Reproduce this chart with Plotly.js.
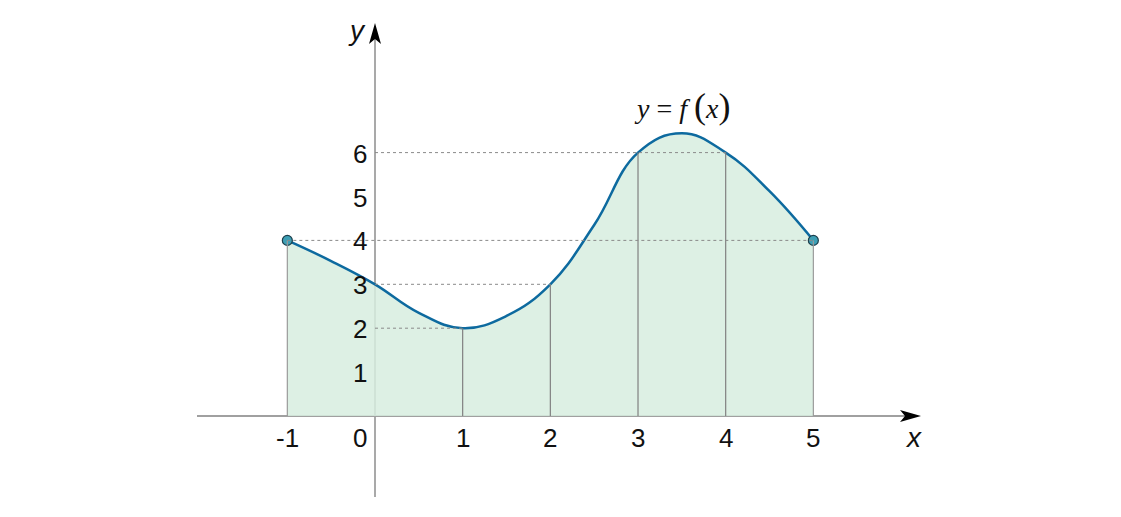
<!DOCTYPE html>
<html><head><meta charset="utf-8">
<script src="https://cdn.plot.ly/plotly-3.0.1.min.js"></script>
<style>html,body{margin:0;padding:0;background:#fff}#c{width:1121px;height:517px}</style>
</head><body><div id="c"></div>
<script>
// curve points
const curveX = [-1, -0.5, 0, 0.5, 1, 1.5, 2, 2.5, 3, 3.5, 4, 4.5, 5];
const curveY = [4, 3.53, 3, 2.35, 2, 2.28, 3, 4.35, 6, 6.44, 6, 5.12, 4];
// marked points (vertical drop lines)
const markX = [-1, 1, 2, 3, 4, 5];
const markY = [4, 2, 3, 6, 6, 4];
// dotted guides
const guideY = [4, 6, 3, 2];
const guideX0 = [-1, 0, 0, 0];
const guideX1 = [5, 4, 2, 1];
const xTicks = [-1, 1, 2, 3, 4, 5];
const xTickLabels = ['-1', '1', '2', '3', '4', '5'];
const yTicks = [1, 2, 3, 4, 5, 6];
const yTickLabels = ['1', '2', '3', '4', '5', '6'];

const W = 1121, H = 517;
const px0 = 375, py0 = 416, ux = 87.67, uy = 43.9;
const xr = [-px0 / ux, (W - px0) / ux];
const yr = [-(H - py0) / uy, py0 / uy];

const traces = [
  {x: curveX, y: curveY, type: 'scatter', mode: 'lines', line: {shape: 'spline', smoothing: 1.2, color: '#0d6a9f', width: 2.5},
   fill: 'tozeroy', fillcolor: 'rgba(215,237,223,0.85)', hoverinfo: 'skip'},
  {x: [curveX[0], curveX[curveX.length - 1]], y: [curveY[0], curveY[curveY.length - 1]], type: 'scatter', mode: 'markers',
   marker: {size: 10, color: '#3d9fb5', line: {color: '#1d3f4c', width: 1.2}}, hoverinfo: 'skip'}
];

const shapes = [];
shapes.push({type: 'line', xref: 'x', yref: 'y', x0: (197 - px0) / ux, x1: 6.1, y0: 0, y1: 0, line: {color: '#a0a0a0', width: 1.8}, layer: 'below'});
shapes.push({type: 'line', xref: 'x', yref: 'y', x0: 0, x1: 0, y0: -(497 - py0) / uy, y1: 8.7, line: {color: '#a0a0a0', width: 1.8}, layer: 'below'});
shapes.push({type: 'path', xref: 'x', yref: 'y', xsizemode: 'pixel', ysizemode: 'pixel', xanchor: (921 - px0) / ux, yanchor: 0,
  path: 'M0,0 L-21,6 L-16,0 L-21,-6 Z', fillcolor: '#000', line: {width: 0}});
shapes.push({type: 'path', xref: 'x', yref: 'y', xsizemode: 'pixel', ysizemode: 'pixel', xanchor: 0, yanchor: (py0 - 23) / uy,
  path: 'M0,0 L-6,-21 L0,-16 L6,-21 Z', fillcolor: '#000', line: {width: 0}});
for (let i = 0; i < markX.length; i++) {
  shapes.push({type: 'line', xref: 'x', yref: 'y', x0: markX[i], x1: markX[i], y0: 0, y1: markY[i],
    line: {color: i === 0 || i === markX.length - 1 ? '#9a9a9a' : '#808080', width: 1.2}});
}
for (let i = 0; i < guideY.length; i++) {
  shapes.push({type: 'line', xref: 'x', yref: 'y', x0: guideX0[i], x1: guideX1[i], y0: guideY[i], y1: guideY[i],
    line: {color: '#8a8a8a', width: 1, dash: 'dot'}});
}

const F = 'Liberation Sans, Arial, sans-serif';
const FS = 26;
const annotations = [];
xTicks.forEach((v, i) => annotations.push({x: v, y: 0, xref: 'x', yref: 'y', text: xTickLabels[i], showarrow: false,
  yshift: -22, font: {family: F, size: FS, color: '#111'}}));
annotations.push({x: 0, y: 0, xref: 'x', yref: 'y', text: '0', showarrow: false, xshift: -15, yshift: -22, font: {family: F, size: FS, color: '#111'}});
yTicks.forEach((v, i) => annotations.push({x: 0, y: v, xref: 'x', yref: 'y', text: yTickLabels[i], showarrow: false,
  xanchor: 'right', xshift: -6, yshift: -1, font: {family: F, size: FS, color: '#111'}}));
annotations.push({x: (913 - px0) / ux, y: (py0 - 437) / uy, xref: 'x', yref: 'y', text: '<i>x</i>', showarrow: false, font: {family: F, size: 28, color: '#111'}});
annotations.push({x: (357 - px0) / ux, y: (py0 - 30) / uy, xref: 'x', yref: 'y', text: '<i>y</i>', showarrow: false, font: {family: F, size: 28, color: '#111'}});
annotations.push({x: (682 - px0) / ux, y: (py0 - 106) / uy, xref: 'x', yref: 'y',
  text: '<i>y</i> = <i>f</i> <span style="font-size:36px">(</span><i>x</i><span style="font-size:36px">)</span>', showarrow: false,
  font: {family: 'Liberation Serif, Times New Roman, serif', size: 28, color: '#111'}});

Plotly.newPlot('c', traces, {
  width: W, height: H, margin: {l: 0, r: 0, t: 0, b: 0}, showlegend: false,
  paper_bgcolor: '#fff', plot_bgcolor: '#fff',
  xaxis: {range: xr, visible: false, fixedrange: true},
  yaxis: {range: yr, visible: false, fixedrange: true},
  shapes: shapes, annotations: annotations
}, {staticPlot: true, displayModeBar: false});
</script></body></html>
